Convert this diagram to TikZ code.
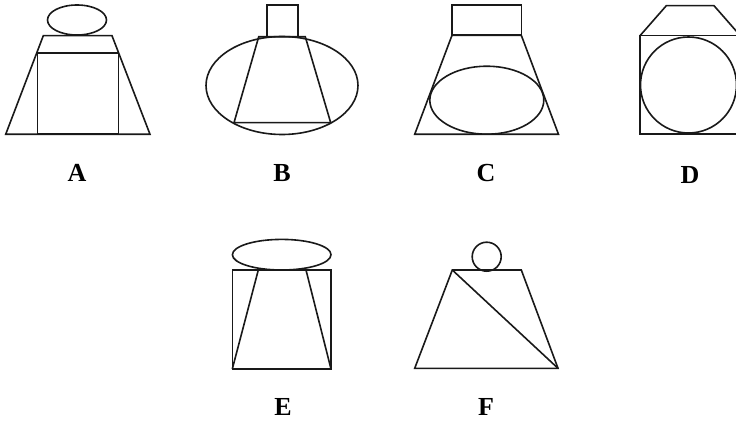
\documentclass[tikz,border=0pt]{standalone}
\usepackage{fontspec}
\setmainfont{Liberation Serif}
\begin{document}
\begin{tikzpicture}[x=1pt,y=-1pt,
  shape line/.style={draw=black!90,line width=1.6pt,line join=miter},
  lbl/.style={font=\fontsize{26}{26}\selectfont\bfseries,inner sep=0pt,anchor=center}]
\useasboundingbox (0,0) rectangle (736,422);
\begin{scope}
\clip (0,0) rectangle (736,422);
% A
\draw[shape line] (77,20) ellipse [x radius=29.5,y radius=15];
\draw[shape line] (5.7,134.3) -- (43.3,35.7) -- (112,35.7) -- (150,134.3) -- cycle;
\draw[shape line] (37.3,53.3) rectangle (118.3,134.3);
% B
\draw[shape line] (266.7,5.3) rectangle (297.7,36.5);
\draw[shape line] (282,85.5) ellipse [x radius=76,y radius=49];
\draw[shape line] (234,122.7) -- (258.7,36.8) -- (305.3,36.8) -- (330.7,122.7) -- cycle;
% C
\draw[shape line] (452,5.3) rectangle (521.3,35.3);
\draw[shape line] (414.7,134.3) -- (452,35.3) -- (521.3,35.3) -- (558.5,134.3) -- cycle;
\draw[shape line] (486.8,100.2) ellipse [x radius=57,y radius=34];
% D
\draw[shape line] (640,35.7) -- (666.3,5.7) -- (714,5.7) -- (740.3,35.7);
\draw[shape line] (640,35.7) rectangle (737.5,134.3);
\draw[shape line] (688.5,85) circle [radius=48];
% E
\draw[shape line] (281.7,254.7) ellipse [x radius=49.3,y radius=15.3];
\draw[shape line] (232.3,270) rectangle (331,369);
\draw[shape line] (232.3,369) -- (258.3,270) -- (306,270) -- (331,369);
% F
\draw[shape line] (486.7,256.7) circle [radius=14.5];
\draw[shape line] (414.7,368.3) -- (452.3,270) -- (521.3,270) -- (558,368.3) -- cycle;
\draw[shape line] (452.3,270) -- (558,368.3);
\end{scope}
% labels
\node[lbl] (la) at (77,173) {A};
\node[lbl] (lb) at (282,173) {B};
\node[lbl] (lc) at (486,173) {C};
\node[lbl] (ld) at (690,175) {D};
\node[lbl] (le) at (283,407) {E};
\node[lbl] (lf) at (486,407) {F};
\end{tikzpicture}
\end{document}
